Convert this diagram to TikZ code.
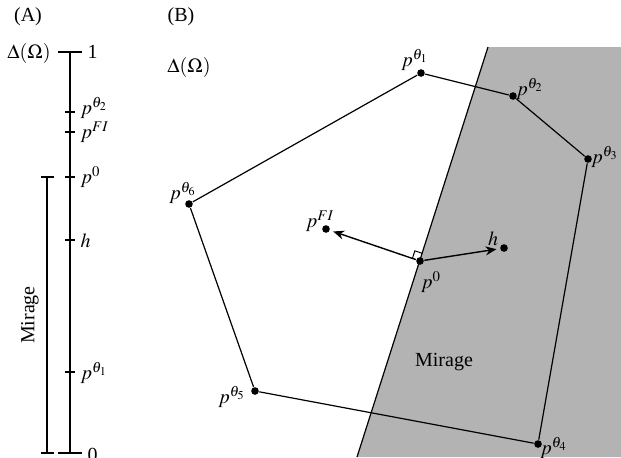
\documentclass[tikz,border=0pt]{standalone}
\usepackage{mathptmx}
\usepackage[no-math]{fontspec}
\setmainfont{Liberation Serif}
\usetikzlibrary{
    positioning,
    arrows.meta,
    calc
}
\definecolor{MirageGray}{RGB}{179,179,179}

\begin{document}
\begin{tikzpicture}[
    x=0.5pt, y=-0.5pt,
    line width=0.6pt,
    dot/.style={circle, fill, inner sep=0pt, minimum size=3.8pt},
    lbl/.style={inner sep=0pt},
    arrow/.style={line width=0.7pt, -{Stealth[length=5.5pt, width=4.5pt]}, shorten >=1.6pt}
]
\useasboundingbox (0,0) rectangle (621,457);

% (A)
\node[lbl] (titleA) at (28,17) {(A)};
\coordinate (topA) at (70,52);
\coordinate (botA) at (70,453);
\draw (topA) -- (botA);
\draw (58,52) -- (82,52);
\draw (58,453) -- (82,453);
\node[lbl] (simplexA) at (29,53) {$\Delta(\Omega)$};
\node[lbl, anchor=west] (oneA) at (87,52) {1};
\node[lbl, anchor=west] (zeroA) at (87,455) {0};
\foreach \y/\ly/\txt in {112/108/{p^{\theta_2}}, 132/132/{p^{FI}}, 177/177/{p^0}, 240/241/h, 372/373/{p^{\theta_1}}} {
    \draw (65,\y) -- (75,\y);
    \node[lbl, anchor=west] (lab\y) at (80,\ly) {$\txt$};
}
\coordinate (mirTop) at (47,177);
\coordinate (mirBot) at (47,453);
\draw (mirTop) -- (mirBot);
\draw (41,177) -- (54,177);
\draw (41,453) -- (54,453);
\node[lbl, rotate=90] (mirA) at (30,315) {Mirage};

% (B)
\node[lbl] (titleB) at (181,17) {(B)};
\node[lbl] (simplexB) at (189,67) {$\Delta(\Omega)$};
\coordinate (mtop) at (488,47);
\coordinate (mbot) at (357,457);
\fill[MirageGray] (mtop) -- (621,47) -- (621,457) -- (mbot) -- cycle;
\draw (mtop) -- (mbot);
\node[lbl] (mirB) at (444,362) {Mirage};

\node[dot] (t1) at (421,73) {};
\node[dot] (t2) at (513,96) {};
\node[dot] (t3) at (588,159) {};
\node[dot] (t4) at (538,444) {};
\node[dot] (t5) at (255,391) {};
\node[dot] (t6) at (189,204) {};
\draw (t1) -- (t2) -- (t3) -- (t4) -- (t5) -- (t6) -- (t1);

\node[lbl] at (415,60) (t1lbl) {$p^{\theta_1}$};
\node[lbl] at (530,89) (t2lbl) {$p^{\theta_2}$};
\node[lbl] at (605,157) (t3lbl) {$p^{\theta_3}$};
\node[lbl] at (554,448) (t4lbl) {$p^{\theta_4}$};
\node[lbl] at (232,397) (t5lbl) {$p^{\theta_5}$};
\node[lbl] at (183,193) (t6lbl) {$p^{\theta_6}$};

\node[dot] (p0) at (420,261) {};
\node[dot] (pFI) at (326,229) {};
\node[dot] (h) at (504,248) {};
\node[lbl] at (431,282) (p0lbl) {$p^0$};
\node[lbl] at (320,221) (pFIlbl) {$p^{FI}$};
\node[lbl] at (493,239) (hlbl) {$h$};

\draw[arrow] (p0) -- (pFI);
\draw[arrow] (p0) -- (h);

% right angle
\coordinate (ra1) at ($(p0)!4pt!(mtop)$);
\coordinate (ra2) at ($(p0)!4pt!(pFI)$);
\draw[line width=0.5pt] (ra1) -- ($(ra1)+(ra2)-(p0)$) -- (ra2);
\end{tikzpicture}
\end{document}
